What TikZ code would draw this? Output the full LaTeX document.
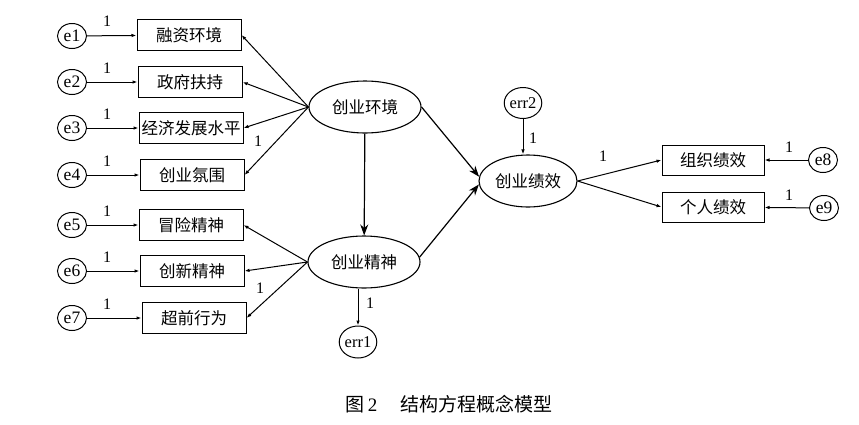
\documentclass[tikz,border=0pt]{standalone}
\usepackage{fontspec}
\setmainfont{Liberation Serif}
\newfontfamily\cjk{Noto Sans CJK SC}
\usetikzlibrary{shapes.geometric,arrows.meta}
\begin{document}
\begin{tikzpicture}[x=1pt,y=-1pt,
  ind/.style={draw,line width=1pt,minimum width=104pt,minimum height=31pt,inner sep=0pt,font=\cjk\fontsize{16.5}{16.5}\selectfont},
  lat/.style={draw,ellipse,line width=1.1pt,minimum width=112pt,minimum height=52pt,inner sep=0pt,font=\cjk\fontsize{16.5}{16.5}\selectfont},
  errc/.style={draw,ellipse,line width=1pt,minimum width=29pt,minimum height=25pt,inner sep=0pt,font=\fontsize{17.5}{17.5}\selectfont},
  errb/.style={draw,ellipse,line width=1pt,minimum width=36pt,minimum height=32pt,inner sep=0pt,font=\fontsize{16.5}{16.5}\selectfont},
  one/.style={font=\fontsize{16}{16}\selectfont,inner sep=0pt},
  sa/.style={-{Latex[length=5pt,width=3.5pt]},line width=1pt},
  ba/.style={-{Stealth[length=11pt,width=8pt]},line width=1.2pt}]
\useasboundingbox (0,0) rectangle (859,424);
% indicators
\node[ind] (b1) at (189,35) {融资环境};
\node[ind] (b2) at (190,82) {政府扶持};
\node[ind] (b3) at (191,128) {经济发展水平};
\node[ind] (b4) at (192,175) {创业氛围};
\node[ind] (b5) at (191,225) {冒险精神};
\node[ind] (b6) at (192,271) {创新精神};
\node[ind] (b7) at (194,318) {超前行为};
\node[ind,minimum width=102pt,minimum height=30pt] (b8) at (713,160) {组织绩效};
\node[ind,minimum width=102pt,minimum height=30pt] (b9) at (713,207) {个人绩效};
% errors
\node[errc] (e1) at (72,36) {e1};
\node[errc] (e2) at (72,82) {e2};
\node[errc] (e3) at (72,128) {e3};
\node[errc] (e4) at (72,175) {e4};
\node[errc] (e5) at (72,225) {e5};
\node[errc] (e6) at (72,271) {e6};
\node[errc] (e7) at (72,318) {e7};
\node[errc] (e8) at (823,160) {e8};
\node[errc] (e9) at (824,208) {e9};
\node[errb] (err1) at (358,342) {err1};
\node[errb,minimum height=31pt] (err2) at (523,103) {err2};
% latents
\node[lat] (env) at (365,107) {创业环境};
\node[lat] (pe) at (364,262) {创业精神};
\node[lat,minimum width=98pt] (pf) at (528,181) {创业绩效};
% error arrows
\foreach \i in {1,...,7} {\draw[sa] (e\i) -- (b\i);}
\draw[sa] (e8) -- (b8);
\draw[sa] (e9) -- (b9);
\node[one] (l1) at (107,21) {1};
\node[one] (l2) at (107,68) {1};
\node[one] (l3) at (107,114) {1};
\node[one] (l4) at (107,161) {1};
\node[one] (l5) at (107,211) {1};
\node[one] (l6) at (107,257) {1};
\node[one] (l7) at (107,304) {1};
\node[one] (l8) at (789,147) {1};
\node[one] (l9) at (789,195) {1};
% loadings
\foreach \i in {1,...,4} {\draw[sa] (env.west) -- (b\i.east);}
\foreach \i in {5,6,7} {\draw[sa] (pe.west) -- (b\i.east);}
\draw[sa] (pf.east) -- (b8.west);
\draw[sa] (pf.east) -- (b9.west);
\node[one] (l10) at (258,141) {1};
\node[one] (l11) at (260,288) {1};
\node[one] (l12) at (603,156) {1};
% structural
\draw[ba] (env) -- (pe);
\draw[ba] (env.east) -- (pf.175);
\draw[ba] (pe.5) -- (pf.184);
\draw[sa] (pe.south -| err1.north) -- (err1);
\draw[sa] (err2) -- (err2 |- pf.north);
\node[one] (l13) at (370,303) {1};
\node[one] (l14) at (533,138) {1};
% caption
\node[font=\fontsize{19}{19}\selectfont,inner sep=0pt] (cap) at (449,404) {{\cjk 图}\,2\hspace{1.2em}{\cjk 结构方程概念模型}};
\end{tikzpicture}
\end{document}
